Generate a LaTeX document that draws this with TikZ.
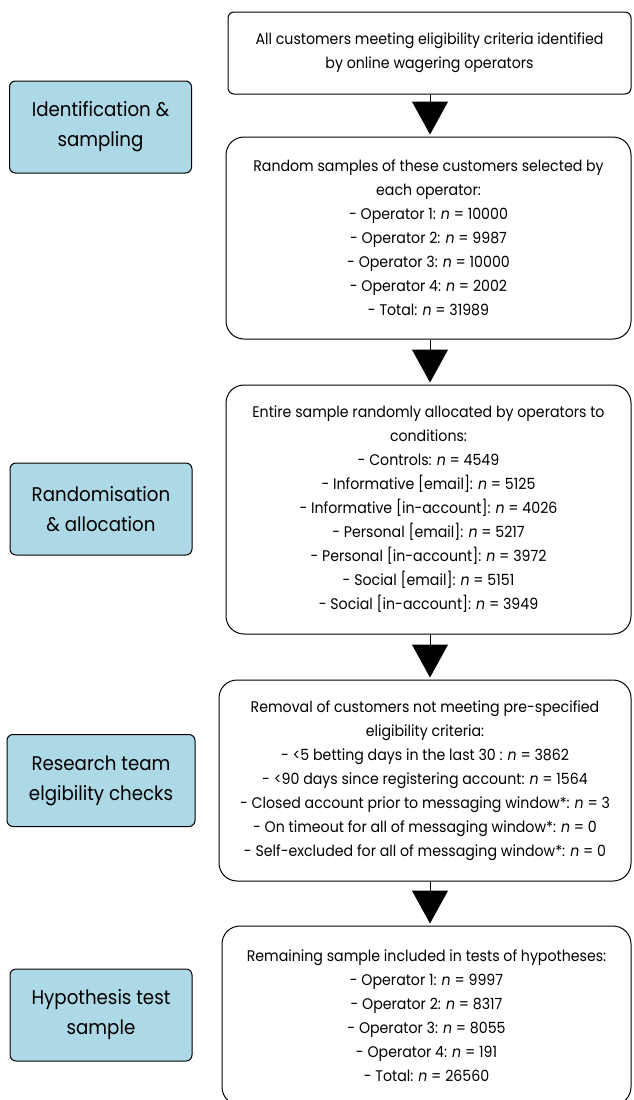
\documentclass[tikz,border=0pt]{standalone}
\usepackage{fontspec}
\setmainfont{Poppins}[FakeStretch=0.92]
\usetikzlibrary{arrows.meta}
\definecolor{sideblue}{HTML}{ADD8E6}
\tikzset{
  mainbox/.style={draw=black, line width=1pt, fill=white, align=center, inner sep=0pt,
    font=\fontsize{15.4}{24}\selectfont},
  sidebox/.style={draw=black, line width=1pt, fill=sideblue, rounded corners=6pt, align=center,
    inner sep=0pt, minimum width=182pt, minimum height=92pt, font=\fontsize{19.8}{30}\selectfont},
  flowarrow/.style={line width=1pt, -{Triangle[width=36pt,length=33pt]}, shorten >=2pt}
}
\newcommand{\nn}{\textit{n}}
\begin{document}
\begin{tikzpicture}[x=1pt,y=-1pt]
\clip (0,0) rectangle (634,1100);
\fill[white] (0,0) rectangle (634,1100);

\node[mainbox, rounded corners=6pt, minimum width=403pt, minimum height=82pt] (b1) at (429.5,53)
  {All customers meeting eligibility criteria identified\\by online wagering operators};

\node[mainbox, rounded corners=18pt, minimum width=405pt, minimum height=202pt] (b2) at (428.5,238)
  {Random samples of these customers selected by\\each operator:\\
   - Operator 1: \nn{} = 10000\\
   - Operator 2: \nn{} = 9987\\
   - Operator 3: \nn{} = 10000\\
   - Operator 4: \nn{} = 2002\\
   - Total: \nn{} = 31989};

\node[mainbox, rounded corners=18pt, minimum width=405pt, minimum height=249pt] (b3) at (428.5,509.5)
  {Entire sample randomly allocated by operators to\\conditions:\\
   - Controls: \nn{} = 4549\\
   - Informative [email]: \nn{} = 5125\\
   - Informative [in-account]: \nn{} = 4026\\
   - Personal [email]: \nn{} = 5217\\
   - Personal [in-account]: \nn{} = 3972\\
   - Social [email]: \nn{} = 5151\\
   - Social [in-account]: \nn{} = 3949};

\node[mainbox, rounded corners=18pt, minimum width=412pt, minimum height=201pt] (b4) at (425,780.5)
  {Removal of customers not meeting pre-specified\\eligibility criteria:\\
   - <5 betting days in the last 30 : \nn{} = 3862\\
   - <90 days since registering account: \nn{} = 1564\\
   - Closed account prior to messaging window*: \nn{} = 3\\
   - On timeout for all of messaging window*: \nn{} = 0\\
   - Self-excluded for all of messaging window*: \nn{} = 0};

\node[mainbox, rounded corners=18pt, minimum width=409pt, minimum height=179pt] (b5) at (426.5,1015.5)
  {Remaining sample included in tests of hypotheses:\\
   - Operator 1: \nn{} = 9997\\
   - Operator 2: \nn{} = 8317\\
   - Operator 3: \nn{} = 8055\\
   - Operator 4: \nn{} = 191\\
   - Total: \nn{} = 26560};

\node[sidebox] (s1) at (100.5,127) {Identification \&\\sampling};
\node[sidebox] (s2) at (101,509) {Randomisation\\\& allocation};
\node[sidebox, minimum width=188pt] (s3) at (101,780.5) {Research team\\elgibility checks};
\node[sidebox] (s4) at (101,1015) {Hypothesis test\\sample};

\coordinate (ax) at (430,0);
\draw[flowarrow] (b1.south -| ax) -- (b2.north -| ax);
\draw[flowarrow] (b2.south -| ax) -- (b3.north -| ax);
\draw[flowarrow] (b3.south -| ax) -- (b4.north -| ax);
\draw[flowarrow] (b4.south -| ax) -- (b5.north -| ax);
\end{tikzpicture}
\end{document}
